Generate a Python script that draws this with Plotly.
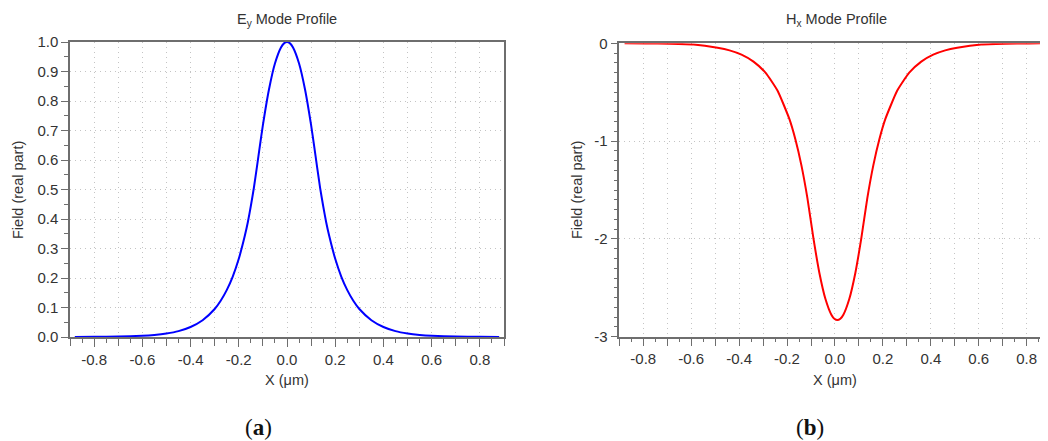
import plotly.graph_objects as go

# ---------------- data ----------------
x_ey = [-0.88, -0.8, -0.7, -0.6, -0.55, -0.5, -0.45, -0.4, -0.35, -0.3, -0.275, -0.25,
        -0.225, -0.2, -0.175, -0.1625, -0.15, -0.1375, -0.125, -0.1125, -0.1, -0.075,
        -0.05, -0.025, -0.0125, 0.0, 0.0125, 0.025, 0.05, 0.075, 0.1, 0.1125, 0.125, 0.1375, 0.15,
        0.1625, 0.175, 0.2, 0.225, 0.25, 0.275, 0.3, 0.35, 0.4, 0.45, 0.5, 0.55, 0.6,
        0.7, 0.8, 0.88]
ey = [0.0002, 0.0005, 0.0015, 0.0043, 0.0072, 0.012, 0.020, 0.034, 0.057, 0.095, 0.123, 0.159,
      0.205, 0.265, 0.343, 0.389, 0.444, 0.505, 0.575, 0.648, 0.718, 0.838,
      0.927, 0.9815, 0.9954, 1.0, 0.9954, 0.9815, 0.927, 0.838, 0.718, 0.648, 0.575, 0.505, 0.444,
      0.389, 0.343, 0.265, 0.205, 0.159, 0.123, 0.095, 0.057, 0.034, 0.020, 0.012, 0.0072, 0.0043,
      0.0015, 0.0005, 0.0002]

x_hx = [-0.878, -0.79, -0.69, -0.59, -0.49, -0.44, -0.39, -0.34, -0.29, -0.24, -0.19, -0.165,
        -0.14, -0.115, -0.09, -0.065, -0.04, -0.015, -0.0025, 0.01, 0.0225, 0.035, 0.06, 0.085, 0.11,
        0.135, 0.16, 0.185, 0.21, 0.26, 0.31, 0.36, 0.41, 0.46, 0.51, 0.61, 0.71, 0.81, 0.89]
hx = [0.0, -0.001, -0.004, -0.012, -0.045, -0.072, -0.116, -0.187, -0.300, -0.483, -0.776, -0.984,
      -1.248, -1.583, -1.992, -2.348, -2.612, -2.775, -2.816, -2.83, -2.816, -2.775, -2.612, -2.348,
      -1.992, -1.583, -1.248, -0.984, -0.776, -0.483, -0.300, -0.187, -0.116, -0.072, -0.045,
      -0.012, -0.004, -0.001, 0.0]

x_label_vals = [-0.8, -0.6, -0.4, -0.2, 0.0, 0.2, 0.4, 0.6, 0.8]
x_label_text = ["-0.8", "-0.6", "-0.4", "-0.2", "0.0", "0.2", "0.4", "0.6", "0.8"]
ey_tick_vals = [0.0, 0.1, 0.2, 0.3, 0.4, 0.5, 0.6, 0.7, 0.8, 0.9, 1.0]
ey_tick_text = ["0.0", "0.1", "0.2", "0.3", "0.4", "0.5", "0.6", "0.7", "0.8", "0.9", "1.0"]
hx_tick_vals = [-3, -2, -1, 0]
hx_tick_text = ["-3", "-2", "-1", "0"]

title_a = "E<sub>y</sub> Mode Profile"
title_b = "H<sub>x</sub> Mode Profile"
x_label = "X (μm)"
y_label = "Field (real part)"

# ---------------- figure ----------------
# page body has an 8px margin, so the figure is placed at (8, 8) in the window
OFF = 8
W, H = 1048 - OFF, 441 - OFF


def px(x):
    return (x - OFF) / W


def py(y):
    return 1 - (y - OFF) / H


FONT = "Liberation Sans, Arial, sans-serif"
TXT = "#333333"
AXC = "#6e6e6e"
GRID = "#c4c4c4"
GDASH = "1px,4px"

dom_x1 = [px(70), px(504)]
dom_y1 = [py(337), py(42)]
dom_x2 = [px(619.3), 1.0]
dom_y2 = [py(336.7), py(43.3)]
rng_x1 = [-0.9, 0.9]
rng_x2 = [-0.9, 0.889]

fig = go.Figure()
# invisible copies so that the grid/tick overlay axes are rendered
fig.add_trace(go.Scatter(x=x_ey, y=ey, mode="lines", line=dict(width=0), opacity=0,
                         hoverinfo="skip", xaxis="x3", yaxis="y", showlegend=False))
fig.add_trace(go.Scatter(x=x_hx, y=hx, mode="lines", line=dict(width=0), opacity=0,
                         hoverinfo="skip", xaxis="x4", yaxis="y2", showlegend=False))
fig.add_trace(go.Scatter(x=x_ey, y=ey, mode="lines",
                         line=dict(color="#0000ff", width=2, shape="spline", smoothing=0.5),
                         xaxis="x", yaxis="y", showlegend=False))
fig.add_trace(go.Scatter(x=x_hx, y=hx, mode="lines",
                         line=dict(color="#ff0000", width=2, shape="spline", smoothing=0.5),
                         xaxis="x2", yaxis="y2", showlegend=False))

tickfont = dict(family=FONT, size=15, color=TXT)
common = dict(showline=True, linecolor=AXC, linewidth=1.5, ticks="outside", tickcolor=AXC,
              tickwidth=1, zeroline=False, layer="below traces", automargin=False,
              tickfont=tickfont, fixedrange=True)

# labelled x axes: labels every 0.2, minor ticks every 0.05, no grid
xlab = dict(common, tickmode="array", tickvals=x_label_vals, ticktext=x_label_text,
            ticklen=8, showgrid=False, mirror=True,
            minor=dict(dtick=0.05, tick0=0, ticklen=4, tickcolor=AXC, showgrid=False))
# overlay x axes: ticks + dotted grid every 0.1, no labels
xgrid = dict(ticks="outside", tickcolor=AXC, tickwidth=1, ticklen=8, tickmode="linear",
             dtick=0.1, tick0=0, showticklabels=False, showline=False, zeroline=False,
             showgrid=True, gridcolor=GRID, griddash=GDASH, gridwidth=1, layer="below traces",
             automargin=False, fixedrange=True)

fig.update_layout(
    width=W, height=H, margin=dict(l=0, r=0, t=0, b=0, pad=0),
    template="none",
    paper_bgcolor="white", plot_bgcolor="white",
    xaxis=dict(xlab, domain=dom_x1, anchor="y", range=rng_x1),
    xaxis3=dict(xgrid, domain=dom_x1, anchor="y", range=rng_x1, overlaying="x", side="bottom"),
    yaxis=dict(common, domain=dom_y1, anchor="x", range=[0, 1], mirror=True,
               tickmode="array", tickvals=ey_tick_vals, ticktext=ey_tick_text, ticklen=7,
               showgrid=True, gridcolor=GRID, griddash=GDASH, gridwidth=1,
               minor=dict(dtick=0.05, tick0=0, ticklen=4, tickcolor=AXC, showgrid=False)),
    xaxis2=dict(xlab, domain=dom_x2, anchor="y2", range=rng_x2),
    xaxis4=dict(xgrid, domain=dom_x2, anchor="y2", range=rng_x2, overlaying="x2", side="bottom"),
    yaxis2=dict(common, domain=dom_y2, anchor="x2", range=[-3, 0], mirror=False,
                tickmode="array", tickvals=hx_tick_vals, ticktext=hx_tick_text, ticklen=7,
                showgrid=True, gridcolor=GRID, griddash=GDASH, gridwidth=1,
                minor=dict(dtick=0.1, tick0=0, ticklen=4, tickcolor=AXC, showgrid=False)),
)

ann_font = dict(family=FONT, size=14.5, color=TXT)
anns = [
    dict(x=px(287), y=py(20), text=title_a),
    dict(x=px(836), y=py(20), text=title_b),
    dict(x=px(287), y=py(380), text=x_label),
    dict(x=px(835), y=py(380), text=x_label),
    dict(x=px(18), y=py(190), text=y_label, textangle=-90),
    dict(x=px(577), y=py(190), text=y_label, textangle=-90),
]
for a in anns:
    fig.add_annotation(xref="paper", yref="paper", xanchor="center", yanchor="middle",
                       showarrow=False, font=ann_font, **a)

cap_font = dict(family="Liberation Serif, Times New Roman, serif", size=23, color="#111111")
fig.add_annotation(xref="paper", yref="paper", x=px(258), y=py(427), text="(<b>a</b>)",
                   showarrow=False, font=cap_font, xanchor="center", yanchor="middle")
fig.add_annotation(xref="paper", yref="paper", x=px(810), y=py(427), text="(<b>b</b>)",
                   showarrow=False, font=cap_font, xanchor="center", yanchor="middle")

fig.write_html("out.html")
